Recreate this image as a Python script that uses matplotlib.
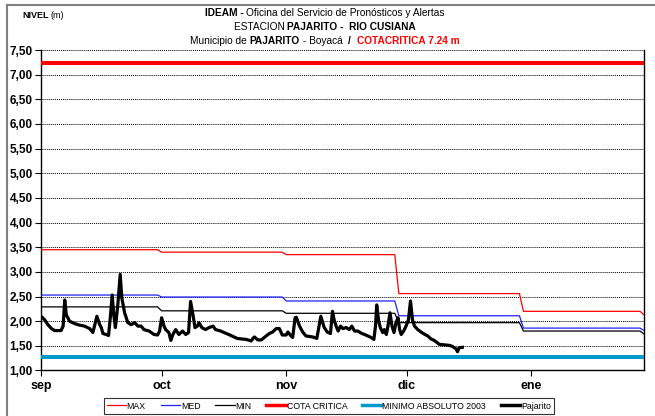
#!/usr/bin/env python3
"""
Nivel del Rio Cusiana - Estacion Pajarito
Niveles diarios frente a MAX / MED / MIN historicos, cota critica y minimo absoluto.
"""
import matplotlib
matplotlib.use("Agg")
import matplotlib.pyplot as plt
from matplotlib.lines import Line2D
from matplotlib.ticker import FuncFormatter, MultipleLocator

plt.rcParams["font.family"] = ["Liberation Sans Narrow", "Liberation Sans", "DejaVu Sans"]

# eje x en dias desde el 1 de septiembre
MESES = ["sep", "oct", "nov", "dic", "ene"]
DIA_MES = [0, 30, 61, 91, 122]
DIA_FIN = 150

# curvas historicas (escalonadas por mes)
MAX_DIA = [0, 29, 30, 60, 61, 88, 89, 119, 120, 149, 150]
MAX_VAL = [3.45, 3.45, 3.40, 3.40, 3.35, 3.35, 2.56, 2.56, 2.20, 2.20, 2.13]
MED_DIA = [0, 29, 30, 60, 61, 88, 89, 119, 120, 149, 150]
MED_VAL = [2.53, 2.53, 2.49, 2.49, 2.41, 2.41, 2.11, 2.11, 1.86, 1.86, 1.81]
MIN_DIA = [0, 29, 30, 60, 61, 88, 89, 119, 120, 149, 150]
MIN_VAL = [2.29, 2.29, 2.21, 2.21, 2.16, 2.16, 1.97, 1.97, 1.80, 1.80, 1.74]

COTA_CRITICA = 7.24
MINIMO_ABS_2003 = 1.28

# registro de la estacion Pajarito
PAJ_DIA = [0.0, 0.9, 1.7, 2.6, 3.4, 4.2, 5.0, 5.5, 5.9, 6.3, 7.1, 8.4, 9.6, 10.8,
           12.1, 12.9, 13.3, 13.9, 14.6, 15.0, 15.4, 16.2, 16.8, 17.3, 17.7, 18.1,
           18.5, 19.1, 19.7, 20.1, 20.8, 21.6, 22.4, 23.3, 24.1, 24.9, 25.6, 26.9,
           28.1, 29.0, 29.5, 30.0, 30.6, 31.0, 31.8, 32.3, 32.8, 33.5, 34.3, 35.2,
           36.0, 36.7, 37.2, 37.8, 38.3, 38.9, 39.3, 40.0, 40.9, 41.8, 42.8, 43.4,
           44.7, 45.5, 46.7, 48.0, 48.8, 51.0, 52.3, 52.7, 53.1, 53.9, 54.8, 56.0,
           56.8, 57.6, 58.5, 59.3, 60.0, 61.0, 61.4, 62.2, 62.6, 63.2, 63.5, 64.3,
           65.1, 65.9, 67.6, 68.6, 69.6, 70.4, 71.2, 72.0, 72.5, 72.9, 73.4, 73.9,
           74.5, 75.1, 75.9, 76.7, 77.3, 78.0, 78.8, 79.8, 80.5, 81.3, 82.1, 82.8,
           83.2, 83.5, 84.0, 84.4, 85.0, 85.4, 85.9, 86.3, 86.8, 87.3, 87.8, 88.3,
           88.8, 89.2, 89.6, 90.2, 90.8, 91.4, 91.9, 92.4, 92.9, 93.7, 94.7, 95.5,
           96.2, 97.0, 97.8, 99.1, 100.2, 101.5, 102.3, 103.2, 103.6, 104.0, 104.8]
PAJ_VAL = [2.10, 2.03, 1.93, 1.85, 1.81, 1.81, 1.81, 1.90, 2.43, 2.13, 2.00, 1.95, 1.92, 1.90,
           1.85, 1.77, 1.90, 2.10, 1.93, 1.87, 1.75, 1.73, 1.71, 2.13, 2.53, 2.13,
           1.87, 2.33, 2.95, 2.47, 2.17, 1.97, 1.93, 1.97, 1.90, 1.90, 1.83, 1.80,
           1.73, 1.72, 1.80, 2.07, 1.90, 1.83, 1.77, 1.61, 1.73, 1.83, 1.73, 1.80,
           1.73, 1.77, 2.40, 2.13, 1.87, 1.90, 1.97, 1.87, 1.83, 1.87, 1.90, 1.83,
           1.80, 1.77, 1.73, 1.68, 1.65, 1.63, 1.60, 1.65, 1.68, 1.62, 1.62, 1.70,
           1.75, 1.78, 1.85, 1.85, 1.72, 1.72, 1.78, 1.70, 1.67, 2.07, 2.08, 1.90,
           1.78, 1.70, 1.68, 1.65, 2.10, 1.88, 1.78, 1.75, 2.20, 2.03, 1.90, 1.80,
           1.90, 1.85, 1.87, 1.83, 1.90, 1.80, 1.80, 1.75, 1.73, 1.70, 1.67, 1.63,
           1.90, 2.33, 2.00, 1.87, 1.77, 1.83, 1.73, 1.90, 2.17, 1.90, 1.77, 1.97,
           2.07, 1.83, 1.73, 1.80, 1.90, 2.03, 2.41, 2.03, 1.90, 1.83, 1.77, 1.73,
           1.70, 1.64, 1.61, 1.53, 1.52, 1.51, 1.49, 1.44, 1.38, 1.46, 1.47]

fig = plt.figure(figsize=(6.55, 4.16), dpi=100)
ax = fig.add_axes([0.0626, 0.1094, 0.9207, 0.7704])

ax.plot(MAX_DIA, MAX_VAL, color="#FF0000", lw=0.9, label="MAX", zorder=3)
ax.plot(MED_DIA, MED_VAL, color="#2020FF", lw=0.9, label="MED", zorder=3)
ax.plot(MIN_DIA, MIN_VAL, color="#000000", lw=0.9, label="MIN", zorder=3)
ax.axhline(COTA_CRITICA, color="#FF0000", lw=2.9, label="COTA CRITICA", zorder=3)
ax.axhline(MINIMO_ABS_2003, color="#0099CC", lw=2.9, label="MINIMO ABSOLUTO 2003", zorder=3)
ax.plot(PAJ_DIA, PAJ_VAL, color="#000000", lw=2.3, label="Pajarito", zorder=4,
        solid_joinstyle="round")

ax.set_xlim(0, DIA_FIN)
ax.set_ylim(1.0, 7.5)
ax.yaxis.set_major_locator(MultipleLocator(0.5))
ax.yaxis.set_major_formatter(FuncFormatter(lambda v, p: f"{v:.2f}".replace(".", ",")))
ax.set_xticks(DIA_MES)
ax.set_xticklabels(MESES)
ax.grid(axis="y", color="black", linestyle=(0, (1, 1)), linewidth=0.7, zorder=1)
ax.spines["top"].set_visible(False)
for s in ["left", "bottom", "right"]:
    ax.spines[s].set_linewidth(1.0)
ax.tick_params(axis="y", direction="out", length=4, width=0.8, labelsize=8.5, pad=2)
ax.tick_params(axis="x", direction="out", length=4, width=0.8, labelsize=9, pad=3)
for lab in ax.get_yticklabels() + ax.get_xticklabels():
    lab.set_fontweight("bold")


def linea_mixta(y, partes, xc=0.496, size=7.3):
    """Escribe una linea centrada hecha de trozos con distinto estilo."""
    r = fig.canvas.get_renderer()
    textos = []
    x = 0.0
    for txt, w, c in partes:
        t = fig.text(x, y, txt, fontsize=size, fontweight=w, color=c,
                     ha="left", va="center")
        x = t.get_window_extent(r).x1 / fig.bbox.width
        textos.append(t)
    ancho = x
    for t in textos:
        px, py = t.get_position()
        t.set_position((px + xc - ancho / 2, py))


fig.canvas.draw()
# encabezado
fig.text(0.034, 0.963, "NIVEL", fontsize=6.5, fontweight="bold", ha="left", va="center")
fig.text(0.077, 0.963, "(m)", fontsize=6.5, ha="left", va="center")
linea_mixta(0.968, [("IDEAM - ", "bold", "black"),
                    ("Oficina del Servicio de Pronósticos y Alertas", "normal", "black")])
linea_mixta(0.935, [("ESTACION ", "normal", "black"),
                    ("PAJARITO -  RIO CUSIANA", "bold", "black")])
linea_mixta(0.902, [("Municipio de ", "normal", "black"), ("PAJARITO", "bold", "black"),
                    (" - Boyacá  ", "normal", "black"), ("/  ", "bold", "black"),
                    ("COTACRITICA 7.24 m", "bold", "#FF0000")])

# marco exterior
fig.add_artist(Line2D([0.011, 1.0], [0.988, 0.988], color="#808080", lw=1.5))
fig.add_artist(Line2D([0.011, 0.011], [0.0, 0.988], color="#808080", lw=1.5))

handles, labels = ax.get_legend_handles_labels()
leg = fig.legend(handles, labels, loc="center", bbox_to_anchor=(0.502, 0.024), ncol=6,
                 fontsize=6.3, frameon=True, fancybox=False, handlelength=2.2,
                 handletextpad=0.1, columnspacing=1.7, borderpad=0.35)
leg.get_frame().set_edgecolor("black")
leg.get_frame().set_linewidth(0.8)
for h in leg.get_lines():
    if h.get_linewidth() > 2:
        h.set_linewidth(2.5)

fig.savefig("out.png", dpi=100, facecolor="white")
